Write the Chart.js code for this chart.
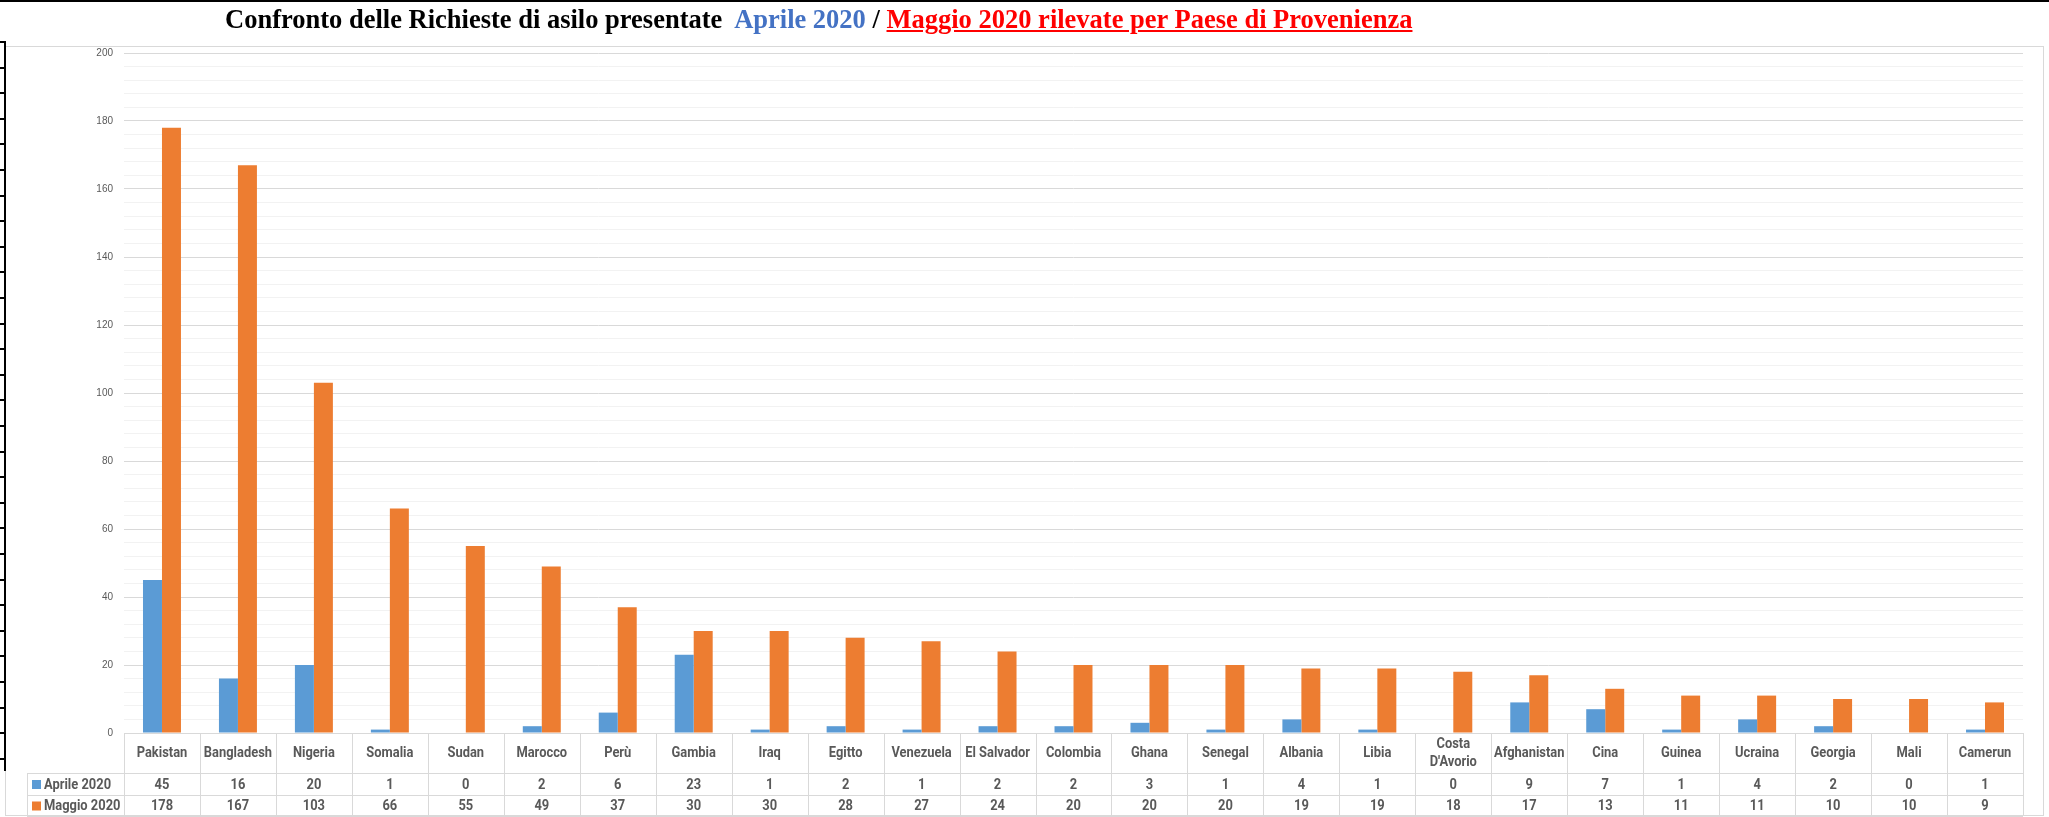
<!DOCTYPE html>
<html>
<head>
<meta charset="utf-8">
<script src="https://cdn.jsdelivr.net/npm/chart.js@4/dist/chart.umd.min.js"></script>
<style>
  body { margin: 0; background: #fff; overflow: hidden; }
  #wrap { position: relative; width: 2049px; height: 817px; }
  #topline { position: absolute; left: 0; top: 0; width: 2049px; height: 2px; background: #000; }
  #frame { position: absolute; left: 5px; top: 46px; width: 2037px; height: 768px; border: 1px solid #d9d9d9; }
  #leftbar { position: absolute; left: 0; top: 41px; width: 4px; height: 730px; border-right: 2px solid #000;
    background: repeating-linear-gradient(to bottom, #000 0 2px, transparent 2px 25.6px); }
  #title { position: absolute; left: 225px; top: 4px; white-space: nowrap; line-height: 30px;
    font: bold 26.5px "Liberation Serif", "DejaVu Serif", serif; color: #000; }
  #title .a { color: #4472c4; }
  #title .m { color: #ff0000; text-decoration: underline; }
  canvas { position: absolute; left: 0; top: 0; }
</style>
</head>
<body>
<div id="wrap">
  <div id="topline"></div>
  <div id="frame"></div>
  <div id="leftbar"></div>
  <canvas id="myChart" width="2049" height="817"></canvas>
  <div id="title">Confronto delle Richieste di asilo presentate&nbsp; <span class="a">Aprile 2020</span> / <span class="m">Maggio 2020 rilevate per Paese di Provenienza</span></div>
</div>
<script>
const paesi = ["Pakistan", "Bangladesh", "Nigeria", "Somalia", "Sudan", "Marocco", "Perù", "Gambia", "Iraq",
  "Egitto", "Venezuela", "El Salvador", "Colombia", "Ghana", "Senegal", "Albania", "Libia", "Costa D'Avorio",
  "Afghanistan", "Cina", "Guinea", "Ucraina", "Georgia", "Mali", "Camerun"];
const aprile = [45, 16, 20, 1, 0, 2, 6, 23, 1, 2, 1, 2, 2, 3, 1, 4, 1, 0, 9, 7, 1, 4, 2, 0, 1];
const maggio = [178, 167, 103, 66, 55, 49, 37, 30, 30, 28, 27, 24, 20, 20, 20, 19, 19, 18, 17, 13, 11, 11, 10, 10, 9];
const serie = ["Aprile 2020", "Maggio 2020"];
const colori = ["#5b9bd5", "#ed7d31"];

const tableFont = 'bold 15px "Roboto", "Liberation Sans", sans-serif';
const gray = "#595959";
const lineCol = "#d9d9d9";
const squeeze = 0.86; // narrow the text a bit, like Calibri

function narrowText(ctx, txt, x, y) {
  ctx.save();
  ctx.translate(x, y);
  ctx.scale(squeeze, 1);
  ctx.fillText(txt, 0, 0);
  ctx.restore();
}

// data table under the plot, columns follow the x scale
const tablePlugin = {
  id: "dataTable",
  afterDraw(chart) {
    const ctx = chart.ctx;
    const a = chart.chartArea;
    const x = chart.scales.x;
    const n = paesi.length;
    const half = (a.right - a.left) / n / 2;
    const r0 = a.bottom, r1 = a.bottom + 40, r2 = r1 + 22, r3 = r2 + 21;
    const legLeft = 27;

    ctx.save();
    ctx.strokeStyle = lineCol;
    ctx.lineWidth = 1;
    ctx.beginPath();
    ctx.moveTo(a.left, r0 + 0.5); ctx.lineTo(a.right, r0 + 0.5);
    [r1, r2, r3].forEach(r => { ctx.moveTo(legLeft, r + 0.5); ctx.lineTo(a.right, r + 0.5); });
    ctx.moveTo(legLeft + 0.5, r1); ctx.lineTo(legLeft + 0.5, r3);
    for (let i = 0; i <= n; i++) {
      const bx = Math.round(i < n ? x.getPixelForValue(i) - half : x.getPixelForValue(n - 1) + half) + 0.5;
      ctx.moveTo(bx, r0); ctx.lineTo(bx, r3);
    }
    ctx.stroke();

    ctx.font = tableFont;
    ctx.fillStyle = gray;
    ctx.textAlign = "center";
    ctx.textBaseline = "middle";
    paesi.forEach((p, i) => {
      const cx = x.getPixelForValue(i);
      const parts = p === "Costa D'Avorio" ? ["Costa", "D'Avorio"] : [p];
      const my = (r0 + r1) / 2;
      if (parts.length === 1) narrowText(ctx, p, cx, my);
      else { narrowText(ctx, parts[0], cx, my - 9); narrowText(ctx, parts[1], cx, my + 9); }
      narrowText(ctx, String(aprile[i]), cx, (r1 + r2) / 2 + 1);
      narrowText(ctx, String(maggio[i]), cx, (r2 + r3) / 2 + 1);
    });

    ctx.textAlign = "left";
    [[r1, r2], [r2, r3]].forEach((rr, k) => {
      const my = (rr[0] + rr[1]) / 2;
      ctx.fillStyle = colori[k];
      ctx.fillRect(legLeft + 5, my - 4, 9, 9);
      ctx.fillStyle = gray;
      narrowText(ctx, serie[k], legLeft + 17, my + 1);
    });
    ctx.restore();
  }
};

new Chart(document.getElementById("myChart"), {
  type: "bar",
  data: {
    labels: paesi,
    datasets: [
      { label: serie[0], data: aprile, backgroundColor: colori[0] },
      { label: serie[1], data: maggio, backgroundColor: colori[1] }
    ]
  },
  options: {
    responsive: false,
    animation: false,
    devicePixelRatio: 1,
    layout: { padding: { left: 0, top: 53, right: 26, bottom: 44 } },
    datasets: { bar: { categoryPercentage: 0.5, barPercentage: 1 } },
    plugins: { legend: { display: false }, tooltip: { enabled: false } },
    scales: {
      x: {
        grid: { display: false },
        border: { display: false },
        ticks: { display: false },
        afterFit(s) { s.height = 40; }
      },
      y: {
        min: 0, max: 200,
        afterFit(s) { s.width = 124; },
        border: { display: false },
        grid: {
          drawTicks: false,
          color: c => (c.tick && c.tick.value % 20 === 0) ? "#d9d9d9" : "#f2f2f2"
        },
        ticks: {
          stepSize: 4,
          autoSkip: false,
          padding: 11,
          color: gray,
          font: { family: "Liberation Sans", size: 10 },
          callback: v => (v % 20 === 0 ? v : "")
        }
      }
    }
  },
  plugins: [tablePlugin]
});
</script>
</body>
</html>
